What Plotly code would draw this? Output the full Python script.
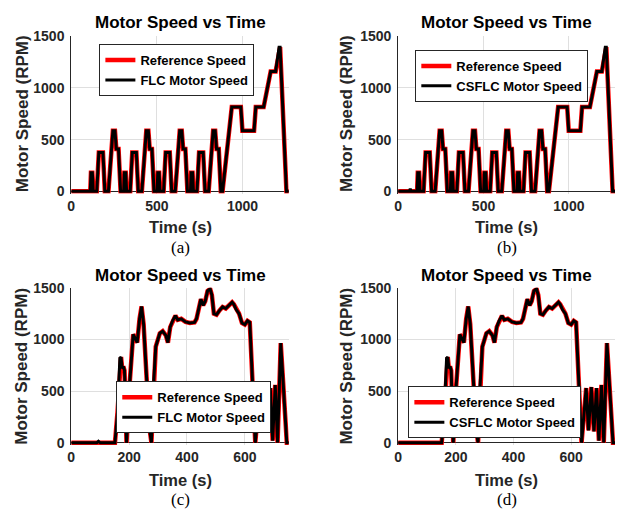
import plotly.graph_objects as go

W, H = 617, 520

# ---------------- data ----------------
# Drive cycle 1 (panels a, b)
nedc_time = [0, 111, 115, 123, 125, 128, 149, 161, 185, 196, 217, 243, 255, 263, 276, 288,
             306, 310, 318, 320, 323, 344, 356, 380, 391, 412, 438, 450, 458, 471, 483,
             501, 505, 513, 515, 518, 539, 551, 575, 586, 607, 633, 645, 653, 666, 678,
             696, 700, 708, 710, 713, 734, 746, 770, 781, 802, 828, 840, 848, 861, 873,
             883, 937, 990, 999, 1067, 1077, 1123, 1164, 1193, 1213, 1219, 1256, 1270]
nedc_ref = [0, 0, 180, 180, 120, 0, 0, 375, 375, 0, 0, 585, 585, 410, 410, 0,
            0, 180, 180, 120, 0, 0, 375, 375, 0, 0, 585, 585, 410, 410, 0,
            0, 180, 180, 120, 0, 0, 375, 375, 0, 0, 585, 585, 410, 410, 0,
            0, 180, 180, 120, 0, 0, 375, 375, 0, 0, 585, 585, 410, 410, 0,
            0, 815, 815, 585, 585, 815, 815, 1160, 1160, 1395, 1395, 0, 0]
flc_nedc_time = nedc_time
flc_nedc_speed = nedc_ref
csflc_nedc_time = [0, 66, 71, 76, 111, 115, 123, 125, 128, 149, 161, 185, 196, 217, 243, 255, 263, 276, 288,
                   306, 310, 318, 320, 323, 344, 356, 380, 391, 412, 438, 450, 458, 471, 483,
                   501, 505, 513, 515, 518, 539, 551, 575, 586, 607, 633, 645, 653, 666, 678,
                   696, 700, 708, 710, 713, 734, 746, 770, 781, 802, 828, 840, 848, 861, 873,
                   883, 937, 990, 999, 1067, 1077, 1123, 1164, 1193, 1213, 1219, 1256, 1270]
csflc_nedc_speed = [0, 0, 25, 0, 0, 180, 180, 120, 0, 0, 375, 375, 0, 0, 585, 585, 410, 410, 0,
                    0, 180, 180, 120, 0, 0, 375, 375, 0, 0, 585, 585, 410, 410, 0,
                    0, 180, 180, 120, 0, 0, 375, 375, 0, 0, 585, 585, 410, 410, 0,
                    0, 180, 180, 120, 0, 0, 375, 375, 0, 0, 585, 585, 410, 410, 0,
                    0, 815, 815, 585, 585, 815, 815, 1160, 1160, 1395, 1395, 0, 0]

# Drive cycle 2 (panels c, d)
cyc2_time = [0, 151, 160, 168, 172, 176, 180, 184, 191, 200, 214, 221, 228, 236, 243, 250, 260, 270,
             277, 283, 292, 306, 316, 327, 334, 342, 350, 360, 368, 380, 395, 410, 426, 433, 448,
             456, 463, 471, 480, 486, 493, 502, 512, 523, 534, 546, 556, 562, 570, 580, 590, 600,
             609, 617, 636, 652, 660, 670, 679, 688, 696, 705, 713, 724, 745, 752]
cyc2_ref = [0, 0, 300, 820, 830, 720, 740, 700, 0, 500, 1050, 1010, 970, 1200, 1320, 1150, 625, 150,
            0, 500, 930, 1060, 1080, 1040, 970, 1120, 1180, 1230, 1190, 1200, 1170, 1160, 1165, 1200, 1390,
            1330, 1370, 1470, 1490, 1430, 1250, 1240, 1280, 1315, 1300, 1330, 1360, 1340, 1290, 1250, 1160, 1145,
            1180, 1165, 0, 530, 120, 540, 110, 530, 20, 560, 0, 965, 0, 0]
flc_cyc2_time = [0, 88, 94, 100, 151, 160, 168, 172, 176, 180, 184, 191, 200, 214, 221, 228, 236, 243, 250, 260, 270,
                 277, 283, 292, 306, 316, 327, 334, 342, 350, 360, 368, 380, 395, 410, 426, 433, 448,
                 456, 463, 471, 480, 486, 493, 502, 512, 523, 534, 546, 556, 562, 570, 580, 590, 600,
                 609, 617, 636, 652, 660, 670, 679, 688, 696, 705, 713, 724, 745, 752]
flc_cyc2_speed = [0, 0, 15, 0, 0, 300, 820, 830, 720, 740, 700, 0, 500, 1050, 1010, 970, 1200, 1320, 1150, 625, 150,
                  0, 500, 930, 1060, 1080, 1040, 970, 1120, 1180, 1230, 1190, 1200, 1170, 1160, 1165, 1200, 1390,
                  1330, 1370, 1470, 1490, 1430, 1250, 1240, 1280, 1315, 1300, 1330, 1360, 1340, 1290, 1250, 1160, 1145,
                  1180, 1165, 0, 530, 120, 540, 110, 530, 20, 560, 0, 965, 0, 0]
csflc_cyc2_time = cyc2_time
csflc_cyc2_speed = cyc2_ref

x_ticks_cyc1 = [0, 500, 1000]
x_ticks_cyc2 = [0, 200, 400, 600]
y_ticks = [0, 500, 1000, 1500]
x_range_cyc1 = [0, 1270]
x_range_cyc2 = [0, 752]
y_range = [-25, 1500]

panel_labels = ["(a)", "(b)", "(c)", "(d)"]
ctrl_names = ["FLC Motor Speed", "CSFLC Motor Speed", "FLC Motor Speed", "CSFLC Motor Speed"]

# ---------------- layout helpers ----------------
def px(x):
    return x / W

def py(y):
    return 1 - y / H

FONT = "Liberation Sans, Arial, Helvetica, sans-serif"
TXT = "#262626"

# plot-area pixel boxes: (left, right, top, bottom_of_area)
boxes = [
    (67.7, 286.7, 29.0, 190.6),
    (396.7, 615.0, 29.0, 190.6),
    (67.7, 286.7, 287.0, 448.6),
    (396.7, 615.0, 287.0, 448.6),
]
legend_pos = [(96, 37), (414, 43), (113, 383), (407, 388)]

series = [
    (nedc_time, nedc_ref, flc_nedc_time, flc_nedc_speed, x_ticks_cyc1, x_range_cyc1),
    (nedc_time, nedc_ref, csflc_nedc_time, csflc_nedc_speed, x_ticks_cyc1, x_range_cyc1),
    (cyc2_time, cyc2_ref, flc_cyc2_time, flc_cyc2_speed, x_ticks_cyc2, x_range_cyc2),
    (cyc2_time, cyc2_ref, csflc_cyc2_time, csflc_cyc2_speed, x_ticks_cyc2, x_range_cyc2),
]

fig = go.Figure()
layout = dict(
    width=W, height=H,
    margin=dict(l=0, r=0, t=0, b=0),
    paper_bgcolor="white", plot_bgcolor="white",
    font=dict(family=FONT, color=TXT),
    annotations=[],
)

for i, (rt, rv, mt, mv, xt, xr) in enumerate(series):
    n = i + 1
    sfx = "" if n == 1 else str(n)
    lg = "legend" if n == 1 else f"legend{n}"
    fig.add_trace(go.Scatter(x=rt, y=rv, mode="lines", name="Reference Speed",
                             line=dict(color="#ff0000", width=4.5),
                             xaxis="x" + sfx, yaxis="y" + sfx, legend=lg))
    fig.add_trace(go.Scatter(x=mt, y=mv, mode="lines", name=ctrl_names[i],
                             line=dict(color="#000000", width=3),
                             xaxis="x" + sfx, yaxis="y" + sfx, legend=lg))
    l, r, t, b = boxes[i]
    layout["xaxis" + sfx] = dict(
        domain=[px(l), px(r)], range=xr, tickvals=xt, ticktext=[str(v) for v in xt],
        anchor="y" + sfx, showline=False, showgrid=True, gridcolor="#dfdfdf", gridwidth=1,
        zeroline=False, ticks="", tickfont=dict(size=14, weight="bold", color=TXT, family=FONT),
        ticklabelstandoff=2,
    )
    layout["yaxis" + sfx] = dict(
        domain=[py(b), py(t)], range=y_range, tickvals=y_ticks, ticktext=[str(v) for v in y_ticks],
        anchor="x" + sfx, showline=True, linecolor=TXT, linewidth=1, showgrid=True,
        gridcolor="#dfdfdf", gridwidth=1, zeroline=True, zerolinecolor=TXT, zerolinewidth=1,
        ticks="", tickfont=dict(size=14, weight="bold", color=TXT, family=FONT),
        ticklabelstandoff=3,
    )
    lx, ly = legend_pos[i]
    layout[lg] = dict(
        x=px(lx), y=py(ly), xanchor="left", yanchor="top",
        bgcolor="white", bordercolor=TXT, borderwidth=1,
        font=dict(size=13, weight="bold", color="#000000", family=FONT),
        tracegroupgap=0, itemwidth=30, traceorder="normal",
    )
    cx = (l + r) / 2
    top_y = 15 if n <= 2 else 274
    lab_y = 225 if n <= 2 else 484
    pan_y = 246 if n <= 2 else 504
    ylab_x = 18 if n % 2 == 1 else 345
    ylab_y = 108 if n <= 2 else 367
    layout["annotations"] += [
        dict(text="<b>Motor Speed vs Time</b>", x=px(cx), y=py(top_y), xref="paper", yref="paper",
             showarrow=False, xanchor="center", yanchor="middle",
             font=dict(size=17, color="#000000", family=FONT)),
        dict(text="<b>Time (s)</b>", x=px(cx), y=py(lab_y), xref="paper", yref="paper",
             showarrow=False, xanchor="center", yanchor="middle", borderpad=0,
             font=dict(size=16.5, color=TXT, family=FONT)),
        dict(text="<b>Motor Speed (RPM)</b>", x=px(ylab_x), y=py(ylab_y), xref="paper", yref="paper",
             showarrow=False, xanchor="center", yanchor="middle", textangle=-90,
             font=dict(size=17, color=TXT, family=FONT)),
        dict(text=panel_labels[i], x=px(cx), y=py(pan_y), xref="paper", yref="paper",
             showarrow=False, xanchor="center", yanchor="middle", borderpad=0,
             font=dict(size=17, color="#000000", family="Liberation Serif, Times New Roman, serif")),
    ]

fig.update_layout(**layout)
fig.write_html("out.html", post_script="document.body.style.margin='0';",
               config={"displayModeBar": False})
